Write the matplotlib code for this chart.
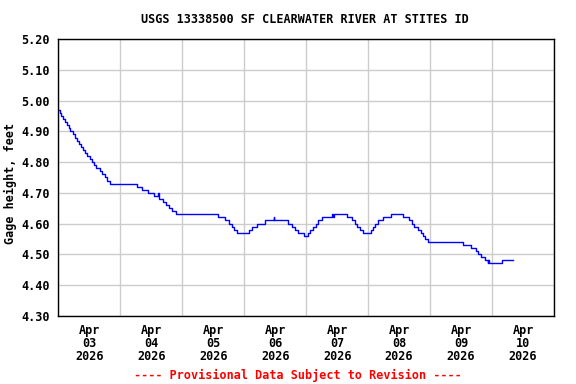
import numpy as np
import matplotlib
matplotlib.use("Agg")
import matplotlib.pyplot as plt

# gage height steps: hours since 2026-04-03 00:00, value (ft)
hours = [0, 0.7, 1.2, 1.8, 2.6, 3.4, 4.1, 4.7, 5.7, 6.5, 7.2, 8.0, 8.8, 9.6, 10.3,
         11.1, 12.3, 13.0, 13.8, 14.6, 16.1, 16.9, 18.1, 18.9, 20.0,
         30.6, 32.3, 34.6, 37.2, 38.7, 38.9, 39.1, 40.6, 41.7, 43.0, 43.9, 45.6,
         61.9, 64.5, 66.2, 67.1, 68.0, 69.3, 73.9, 75.0, 76.9, 80.0, 83.5, 83.7,
         88.9, 90.5, 91.6, 92.8, 95.1, 96.7, 97.5, 98.6, 99.8, 100.6, 102.1, 105.9,
         106.5, 106.7, 111.7, 113.7, 114.8, 115.6, 116.8, 117.9, 121.0, 121.8,
         122.6, 123.8, 125.7, 128.8, 133.4, 135.8, 136.9, 137.7, 139.2, 140.4,
         141.2, 141.9, 143.1, 156.6, 159.7, 161.7, 162.4, 163.6, 165.2, 166.3,
         166.5, 166.7, 172.0, 176.1]
stage = [4.97, 4.96, 4.95, 4.94, 4.93, 4.92, 4.91, 4.90, 4.89, 4.88, 4.87, 4.86, 4.85, 4.84, 4.83,
         4.82, 4.81, 4.80, 4.79, 4.78, 4.77, 4.76, 4.75, 4.74, 4.73,
         4.72, 4.71, 4.70, 4.69, 4.70, 4.69, 4.68, 4.67, 4.66, 4.65, 4.64, 4.63,
         4.62, 4.61, 4.60, 4.59, 4.58, 4.57, 4.58, 4.59, 4.60, 4.61, 4.62, 4.61,
         4.60, 4.59, 4.58, 4.57, 4.56, 4.57, 4.58, 4.59, 4.60, 4.61, 4.62, 4.63,
         4.62, 4.63, 4.62, 4.61, 4.60, 4.59, 4.58, 4.57, 4.58, 4.59,
         4.60, 4.61, 4.62, 4.63, 4.62, 4.61, 4.60, 4.59, 4.58, 4.57,
         4.56, 4.55, 4.54, 4.53, 4.52, 4.51, 4.50, 4.49, 4.48, 4.47,
         4.48, 4.47, 4.48, 4.48]

day_labels = ["Apr\n03\n2026", "Apr\n04\n2026", "Apr\n05\n2026", "Apr\n06\n2026",
              "Apr\n07\n2026", "Apr\n08\n2026", "Apr\n09\n2026", "Apr\n10\n2026"]
yticks = [4.30, 4.40, 4.50, 4.60, 4.70, 4.80, 4.90, 5.00, 5.10, 5.20]

font = dict(family="DejaVu Sans Mono", weight="bold", size=8.5)

fig = plt.figure(figsize=(5.76, 3.84), dpi=100)
ax = fig.add_axes([0.1012, 0.178, 0.8606, 0.7197])

ax.plot(hours, stage, color="#0000ff", lw=1.0, drawstyle="steps-post")

ax.set_xlim(0, 192)
ax.set_ylim(4.30, 5.20)
ax.set_xticks(np.arange(0, 193, 24))
ax.set_xticklabels([])
ax.set_xticks(np.arange(12, 192, 24), minor=True)
ax.set_xticklabels(day_labels, minor=True, fontdict=font, linespacing=0.98)
ax.set_yticks(yticks)
ax.set_yticklabels([f"{v:.2f}" for v in yticks], fontdict=font)
ax.tick_params(axis="both", which="both", length=0)
ax.tick_params(axis="y", pad=6)
ax.tick_params(axis="x", which="minor", pad=6)

ax.grid(True, which="major", color="#cccccc", lw=1.0)
ax.set_axisbelow(True)
for s in ax.spines.values():
    s.set_color("black")
    s.set_linewidth(1.0)

ax.set_ylabel("Gage height, feet", fontdict=font)
ax.yaxis.set_label_coords(-0.084, 0.48)
fig.text(0.529, 0.948, "USGS 13338500 SF CLEARWATER RIVER AT STITES ID",
         ha="center", va="center", **font)
fig.text(0.518, 0.022, "---- Provisional Data Subject to Revision ----",
         ha="center", va="center", color="red", **font)

fig.savefig("out.png", dpi=100)
